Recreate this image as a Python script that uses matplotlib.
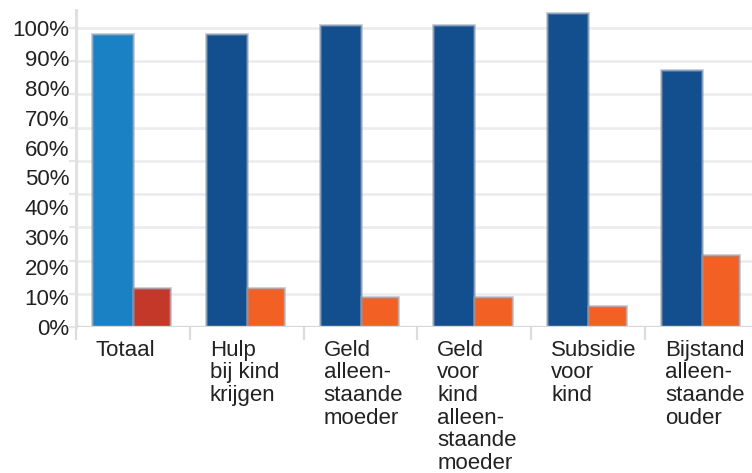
import matplotlib.pyplot as plt
import numpy as np

categories = ['Totaal', 'Hulp\nbij kind\nkrijgen', 'Geld\nalleen-\nstaande\nmoeder',
              'Geld\nvoor\nkind\nalleen-\nstaande\nmoeder', 'Subsidie\nvoor\nkind',
              'Bijstand\nalleen-\nstaande\nouder']
blue_vals = [98, 98, 101, 101, 105, 86]
orange_vals = [13, 13, 10, 10, 7, 24]
blue_cols = ['#1a82c4'] + ['#134f8f'] * 5
orange_cols = ['#c4382a'] + ['#f26123'] * 5
ytick_labels = ['0%', '10%', '20%', '30%', '40%', '50%', '60%', '70%', '80%', '90%', '100%']

plt.rcParams['font.family'] = ['Liberation Sans', 'DejaVu Sans']

fig = plt.figure(figsize=(7.52, 4.73), dpi=100)
ax = fig.add_axes([0.1011, 0.3087, 0.8989, 0.6702])

x = np.arange(len(categories))
edge = (0.55, 0.6, 0.68, 0.5)
ax.bar(x + 0.14, blue_vals, width=0.36, align='edge', color=blue_cols,
       edgecolor=edge, linewidth=2.0, zorder=3)
ax.bar(x + 0.50, orange_vals, width=0.33, align='edge', color=orange_cols,
       edgecolor=edge, linewidth=2.0, zorder=3)

ax.set_xlim(0, 5.94)
ax.set_ylim(0, 106)

# labels on tens, gridlines on ninths
ax.yaxis.remove_overlapping_locs = False
ax.set_yticks(np.arange(0, 101, 10))
ax.set_yticklabels(ytick_labels)
ax.tick_params(axis='y', which='major', length=0, pad=5, labelsize=16, labelcolor='#222222')
ax.set_yticks(np.linspace(0, 100, 10), minor=True)
ax.tick_params(axis='y', which='minor', length=5, width=1.6, color='#e6e6e8')
ax.grid(axis='y', which='minor', color='#ececee', linewidth=1.9, zorder=0)
ax.axhline(0, color='#d8d8da', linewidth=2.4, zorder=4)

ax.set_xticks(np.arange(0, 6))
ax.set_xticklabels([])
ax.tick_params(axis='x', length=9.5, width=1.6, color='#dcdcde')

for s in ['top', 'right', 'bottom']:
    ax.spines[s].set_visible(False)
ax.spines['left'].set_color('#e0e0e2')
ax.spines['left'].set_linewidth(2.2)

for i, lab in enumerate(categories):
    ax.text(i + 0.175, -4.3, lab, ha='left', va='top', fontsize=16,
            color='#222222', linespacing=1.1, clip_on=False)

fig.savefig('out.png', dpi=100)
